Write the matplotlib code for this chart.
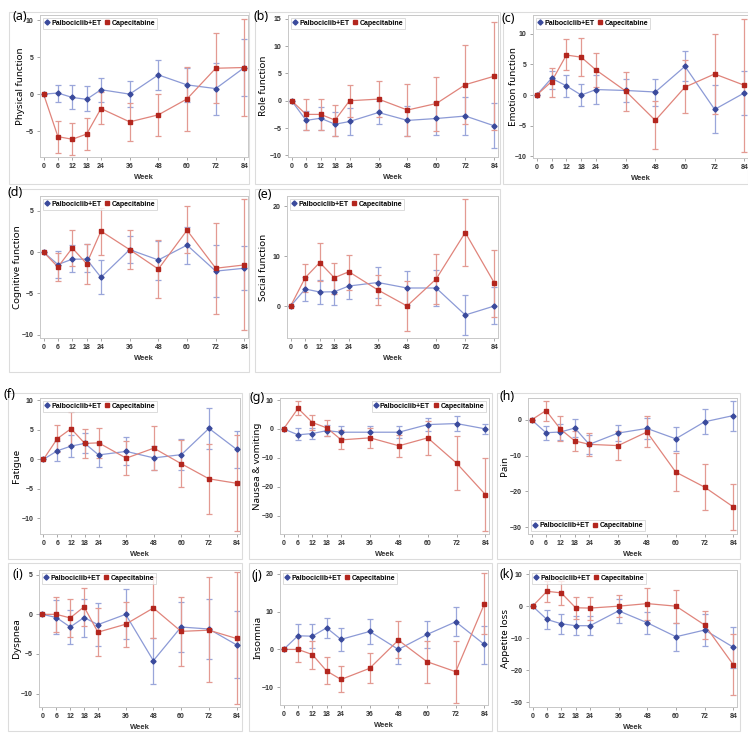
import matplotlib
matplotlib.use("Agg")
import matplotlib.pyplot as plt
from matplotlib.patches import Rectangle
import numpy as np

W, H = 748, 743
weeks = [0, 6, 12, 18, 24, 36, 48, 60, 72, 84]
week_labels = ["0", "6", "12", "18", "24", "36", "48", "60", "72", "84"]
series_names = ["Palbociclib+ET", "Capecitabine"]

# (a) Physical function
a_pal = [0, 0.15, -0.45, -0.7, 0.6, 0.0, 2.6, 1.25, 0.75, 3.6]
a_pal_hi = [0, 1.25, 1.2, 1.05, 2.2, 1.75, 4.65, 3.6, 4.15, 7.5]
a_pal_lo = [0, -1.0, -2.0, -2.25, -1.1, -1.75, 0.6, -1.1, -2.8, -0.3]
a_cap = [0, -5.75, -6.1, -5.4, -1.95, -3.75, -2.8, -0.65, 3.5, 3.6]
a_cap_hi = [0, -3.6, -3.9, -3.2, 0.3, -1.2, 0.0, 3.7, 8.2, 10.2]
a_cap_lo = [0, -7.9, -8.25, -7.6, -4.0, -6.3, -5.6, -5.0, -1.2, -2.9]

# (b) Role function
b_pal = [0, -3.6, -3.2, -4.3, -3.8, -2.15, -3.6, -3.25, -2.8, -4.6]
b_pal_hi = [0, -1.8, -1.15, -2.1, -1.35, -0.05, -0.9, -0.3, 0.6, -0.5]
b_pal_lo = [0, -5.4, -5.3, -6.5, -6.2, -4.3, -6.5, -6.3, -6.3, -8.6]
b_cap = [0, -2.5, -2.5, -3.55, 0.0, 0.3, -1.7, -0.5, 2.95, 4.5]
b_cap_hi = [0, 0.3, 0.3, -0.75, 2.95, 3.6, 3.0, 4.35, 10.15, 14.4]
b_cap_lo = [0, -5.4, -5.4, -6.5, -2.95, -3.05, -6.5, -5.5, -4.3, -5.4]

# (c) Emotion function
c_pal = [0, 2.75, 1.5, 0.0, 0.9, 0.75, 0.5, 4.7, -2.35, 0.35]
c_pal_hi = [0, 3.95, 3.3, 1.8, 3.2, 2.7, 2.7, 7.15, 1.6, 3.9]
c_pal_lo = [0, 1.05, -0.4, -1.85, -1.5, -1.2, -1.8, 2.25, -6.2, -3.2]
c_cap = [0, 2.2, 6.55, 6.2, 4.1, 0.65, -4.15, 1.3, 3.45, 1.6]
c_cap_hi = [0, 4.5, 9.1, 9.3, 6.85, 3.85, -0.95, 5.7, 10.0, 12.4]
c_cap_lo = [0, -0.25, 4.05, 3.05, 1.25, -2.55, -8.75, -3.0, -3.1, -9.3]

# (d) Cognitive function
d_pal = [0, -1.5, -0.85, -0.85, -3.05, 0.3, -0.95, 0.85, -2.3, -1.95]
d_pal_hi = [0, 0.15, 0.9, 0.95, -0.95, 1.95, 1.35, 3.1, 0.85, 0.8]
d_pal_lo = [0, -3.15, -2.45, -2.4, -5.1, -1.35, -3.4, -1.45, -5.45, -4.6]
d_cap = [0, -1.8, 0.5, -1.4, 2.55, 0.3, -2.05, 2.65, -1.95, -1.55]
d_cap_hi = [0, -0.1, 2.65, 0.95, 5.4, 2.7, 1.45, 5.55, 3.55, 6.45]
d_cap_lo = [0, -3.5, -1.7, -3.8, -0.3, -2.1, -5.5, -0.15, -7.45, -9.45]

# (e) Social function
e_pal = [0, 3.4, 2.8, 2.85, 4.0, 4.7, 3.6, 3.6, -1.8, 0.0]
e_pal_hi = [0, 5.9, 5.3, 5.3, 6.6, 7.9, 6.95, 7.2, 2.2, 3.8]
e_pal_lo = [0, 1.0, 0.35, 0.3, 1.35, 1.55, 0.25, 0.0, -5.8, -3.6]
e_cap = [0, 5.65, 8.7, 5.65, 6.85, 3.2, 0.0, 5.4, 14.7, 4.6]
e_cap_hi = [0, 8.5, 12.55, 8.7, 10.3, 6.2, 5.1, 10.45, 21.45, 11.3]
e_cap_lo = [0, 2.8, 5.05, 2.45, 3.25, 0.2, -5.0, 0.35, 8.05, -2.25]

# (f) Fatigue
f_pal = [0, 1.45, 2.25, 2.7, 0.75, 1.35, 0.25, 0.8, 5.25, 1.7]
f_pal_hi = [0, 3.15, 4.1, 4.4, 2.8, 3.75, 2.2, 3.4, 8.7, 4.8]
f_pal_lo = [0, -0.25, 0.4, 1.0, -1.3, -1.0, -1.75, -1.85, 1.8, -1.4]
f_cap = [0, 3.5, 5.2, 2.7, 2.8, 0.2, 1.9, -0.75, -3.3, -4.05]
f_cap_hi = [0, 5.8, 8.0, 5.15, 5.25, 3.1, 5.6, 3.3, 2.65, 4.1]
f_cap_lo = [0, 1.2, 2.4, 0.25, 0.3, -2.7, -1.75, -4.7, -9.2, -12.2]

# (g) Nausea & vomiting
g_pal = [0, -2.05, -1.6, -0.6, -1.15, -1.15, -1.15, 1.5, 1.85, 0.0]
g_pal_hi = [0, 0.3, 0.3, 1.2, 1.0, 1.0, 1.0, 3.8, 4.5, 1.75]
g_pal_lo = [0, -3.8, -3.5, -2.4, -3.3, -3.3, -3.3, -0.8, -0.9, -1.9]
g_cap = [0, 7.1, 2.2, 0.35, -3.8, -3.1, -5.85, -3.1, -11.85, -22.75]
g_cap_hi = [0, 9.6, 4.9, 3.1, -0.5, 0.4, -2.2, 2.6, -2.4, -10.2]
g_cap_lo = [0, 4.8, -0.5, -2.5, -7.0, -6.6, -9.7, -9.1, -21.3, -35.3]

# (h) Pain
h_pal = [0, -3.6, -3.4, -2.3, -6.85, -3.7, -2.4, -5.3, -0.55, 1.2]
h_pal_hi = [0, -1.7, -1.2, 0.3, -4.2, -1.4, 0.5, -2.0, 2.9, 5.4]
h_pal_lo = [0, -5.5, -5.7, -4.9, -9.5, -6.0, -5.3, -8.6, -4.0, -3.0]
h_cap = [0, 2.6, -2.6, -5.9, -6.85, -7.2, -3.4, -14.6, -18.8, -24.35]
h_cap_hi = [0, 5.4, 1.1, -3.0, -3.6, -3.1, 1.1, -9.4, -12.4, -17.8]
h_cap_lo = [0, -0.2, -6.0, -8.8, -10.1, -11.3, -7.7, -19.8, -25.2, -30.9]

# (i) Dyspnea
i_pal = [0, -0.4, -1.6, -0.4, -1.3, 0.0, -5.85, -1.6, -1.85, -3.85]
i_pal_hi = [0, 1.8, 0.6, 2.0, 1.4, 3.2, -3.0, 1.6, 1.9, 0.4]
i_pal_lo = [0, -2.5, -3.8, -2.85, -4.0, -3.1, -8.8, -4.8, -5.6, -8.1]
i_cap = [0, 0.0, -0.45, 0.95, -2.25, -1.25, 0.8, -2.15, -2.0, -3.05]
i_cap_hi = [0, 2.2, 2.0, 3.3, 0.75, 1.5, 4.7, 2.2, 4.7, 5.3]
i_cap_lo = [0, -2.2, -2.9, -1.5, -5.3, -4.1, -3.0, -6.5, -8.6, -11.3]

# (j) Insomnia
j_pal = [0, 3.6, 3.5, 5.7, 2.65, 4.75, 0.0, 3.95, 7.3, 1.3]
j_pal_hi = [0, 6.8, 6.8, 8.4, 5.7, 8.1, 2.3, 7.6, 11.1, 6.3]
j_pal_lo = [0, 0.3, 0.3, 2.9, -0.4, 1.4, -3.8, 0.3, 3.6, -3.8]
j_cap = [0, 0.0, -1.35, -5.7, -7.95, -5.0, 2.45, -3.25, -5.9, 12.05]
j_cap_hi = [0, 3.2, 2.3, -2.1, -4.5, -1.0, 7.4, 2.3, 2.3, 20.2]
j_cap_lo = [0, -3.2, -5.1, -9.2, -11.3, -8.9, -2.4, -8.9, -14.1, 4.0]

# (k) Appetite loss
k_pal = [0, -4.15, -5.5, -6.1, -6.1, -1.45, -5.2, -9.55, -7.45, -12.85]
k_pal_hi = [0, -1.2, -2.5, -3.2, -3.2, 2.2, -1.9, -5.2, -2.5, -6.6]
k_pal_lo = [0, -7.1, -8.6, -9.0, -9.1, -5.2, -8.6, -14.0, -12.4, -19.2]
k_cap = [0, 4.65, 4.15, -0.5, -0.6, 0.0, 0.8, 0.0, -5.9, -18.35]
k_cap_hi = [0, 8.0, 7.8, 3.0, 3.0, 3.4, 5.8, 5.2, -1.6, -8.7]
k_cap_lo = [0, 1.2, 0.5, -4.0, -4.3, -3.4, -4.2, -5.4, -10.3, -27.7]

panel_letters = ["(a)", "(b)", "(c)", "(d)", "(e)", "(f)", "(g)", "(h)", "(i)", "(j)", "(k)"]
panel_titles = ["Physical function", "Role function", "Emotion function", "Cognitive function",
                "Social function", "Fatigue", "Nausea & vomiting", "Pain", "Dyspnea",
                "Insomnia", "Appetite loss"]

data = [
    (a_pal, a_pal_lo, a_pal_hi, a_cap, a_cap_lo, a_cap_hi),
    (b_pal, b_pal_lo, b_pal_hi, b_cap, b_cap_lo, b_cap_hi),
    (c_pal, c_pal_lo, c_pal_hi, c_cap, c_cap_lo, c_cap_hi),
    (d_pal, d_pal_lo, d_pal_hi, d_cap, d_cap_lo, d_cap_hi),
    (e_pal, e_pal_lo, e_pal_hi, e_cap, e_cap_lo, e_cap_hi),
    (f_pal, f_pal_lo, f_pal_hi, f_cap, f_cap_lo, f_cap_hi),
    (g_pal, g_pal_lo, g_pal_hi, g_cap, g_cap_lo, g_cap_hi),
    (h_pal, h_pal_lo, h_pal_hi, h_cap, h_cap_lo, h_cap_hi),
    (i_pal, i_pal_lo, i_pal_hi, i_cap, i_cap_lo, i_cap_hi),
    (j_pal, j_pal_lo, j_pal_hi, j_cap, j_cap_lo, j_cap_hi),
    (k_pal, k_pal_lo, k_pal_hi, k_cap, k_cap_lo, k_cap_hi),
]

yticks = [[-5, 0, 5, 10], [-10, -5, 0, 5, 10, 15], [-10, -5, 0, 5, 10], [-10, -5, 0, 5],
          [0, 10, 20], [-10, -5, 0, 5, 10], [-30, -20, -10, 0, 10], [-30, -20, -10, 0],
          [-10, -5, 0, 5], [-10, 0, 10, 20], [-30, -20, -10, 0, 10]]
ylims = [(-8.5, 10.7), (-10.3, 15.7), (-10.3, 13.1), (-10.4, 6.8), (-6.4, 22),
         (-12.65, 10.4), (-36.4, 10.7), (-31.9, 6.1), (-11.7, 5.6), (-14.7, 21), (-31.5, 11.3)]
legend_locs = ["upper left"] * 6 + ["upper right", "lower left"] + ["upper left"] * 3

# layout in pixels: (left, right, top, bottom) of axes
axes_px = [(40, 248, 15, 157), (288, 498, 15, 157), (533, 748, 15, 158),
           (40, 248, 196, 338), (287, 498, 196, 338),
           (40, 240, 398, 534), (280, 489, 398, 534), (528, 737, 398, 534),
           (39, 240, 570, 707), (280, 488, 570, 705), (529, 737, 570, 707)]
frames_px = [(9, 249, 12, 184), (255, 500, 12, 184), (503, 748, 12, 184),
             (9, 249, 189, 372), (255, 500, 189, 372),
             (8, 242, 393, 559), (249, 492, 393, 559), (497, 740, 393, 559),
             (8, 242, 563, 731), (249, 492, 563, 731), (497, 740, 563, 731)]
ylabel_x = [21, 263, 513, 18, 263, 17, 257, 504, 17, 258, 505]
letter_pos = [(12, 16), (253, 16), (502, 18), (8, 193), (257, 194),
              (3, 394), (250, 397), (499, 397), (12, 575), (251, 575), (500, 575)]

pal_mk, pal_ln, pal_eb = "#3a4a9c", "#8c9ad6", "#9aa6da"
cap_mk, cap_ln, cap_eb = "#b3261e", "#e0847b", "#e39a92"

fig = plt.figure(figsize=(W / 100, H / 100), dpi=100)
fig.patch.set_facecolor("white")

for (fl, fr, ft, fb) in frames_px:
    fig.add_artist(Rectangle((fl / W, 1 - fb / H), (fr - fl) / W, (fb - ft) / H,
                             transform=fig.transFigure, fill=False, ec="#dcdcdc", lw=0.8,
                             zorder=-1))

tickfont = {"family": "Liberation Sans", "weight": "bold", "size": 5}

for idx in range(11):
    l, r, t, b = axes_px[idx]
    ax = fig.add_axes([l / W, 1 - b / H, (r - l) / W, (b - t) / H])
    pal, pal_lo, pal_hi, cap, cap_lo, cap_hi = data[idx]
    x = np.array(weeks, dtype=float)
    for vals, lo, hi, mk, ln, eb, marker, name in [
        (pal, pal_lo, pal_hi, pal_mk, pal_ln, pal_eb, "D", series_names[0]),
        (cap, cap_lo, cap_hi, cap_mk, cap_ln, cap_eb, "s", series_names[1]),
    ]:
        v = np.array(vals); lo = np.array(lo); hi = np.array(hi)
        ax.errorbar(x[1:], v[1:], yerr=[v[1:] - lo[1:], hi[1:] - v[1:]], fmt="none",
                    ecolor=eb, elinewidth=0.9, capsize=2.2, capthick=0.9, zorder=2)
        ax.plot(x, v, color=ln, lw=0.9, zorder=3)
        ax.plot(x, v, linestyle="none", marker=marker, ms=2.6, mfc=mk, mec=mk, zorder=4,
                label=name)
    ax.set_xlim(-1.5, 85.5)
    ax.set_ylim(*ylims[idx])
    ax.set_xticks(weeks)
    ax.set_xticklabels(week_labels)
    ax.set_yticks(yticks[idx])
    ax.set_yticklabels([f"{v:d}".replace("-", "\u2212") for v in yticks[idx]])
    for lab in ax.get_xticklabels() + ax.get_yticklabels():
        lab.set_fontproperties(tickfont)
        lab.set_color("#333333")
    ax.tick_params(axis="both", length=2, width=0.6, color="#999999", pad=2.5)
    for sp in ax.spines.values():
        sp.set_color("#c8c8c8")
        sp.set_linewidth(0.7)
    ax.set_xlabel("Week", fontfamily="Liberation Sans", fontweight="bold", fontsize=5.5,
                  color="#333333", labelpad=3)
    ax.set_ylabel(panel_titles[idx], fontfamily="Noto Sans", fontsize=7, color="black")
    ax.yaxis.label.set_va("center")
    ax.yaxis.set_label_coords((ylabel_x[idx] - l) / (r - l), 0.5)
    leg = ax.legend(loc=legend_locs[idx], ncol=2, frameon=True, fancybox=False,
                    prop={"family": "Liberation Sans", "weight": "bold", "size": 5},
                    handlelength=0.6, handletextpad=0.3, columnspacing=0.6,
                    borderpad=0.3, borderaxespad=0.4, markerscale=1.0)
    leg.get_frame().set_edgecolor("#cccccc")
    leg.get_frame().set_linewidth(0.6)
    lx, ly = letter_pos[idx]
    fig.text(lx / W, 1 - ly / H, panel_letters[idx], fontfamily="Noto Sans", fontsize=9,
             va="center", ha="left", color="black")

fig.savefig("out.png", dpi=100, facecolor="white")
